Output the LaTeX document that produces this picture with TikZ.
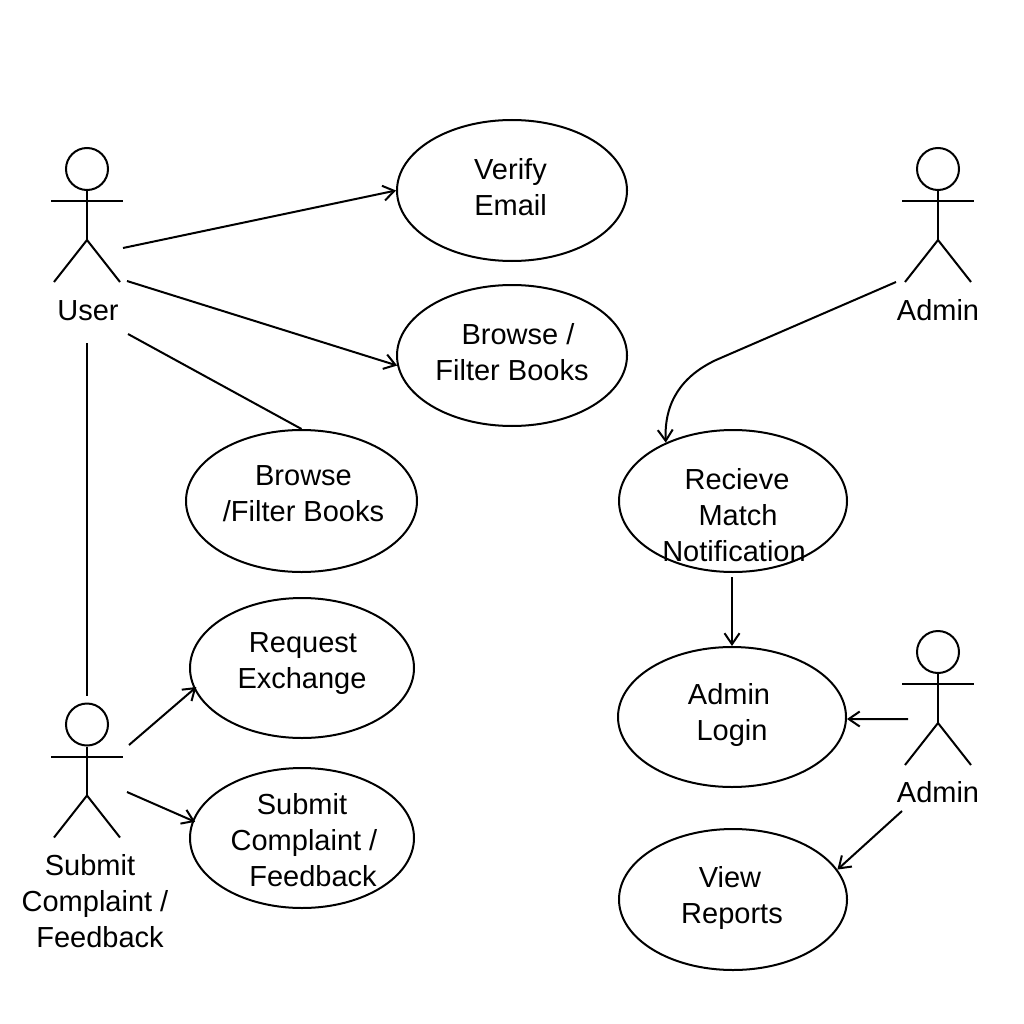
\documentclass[tikz,border=0pt]{standalone}
\usepackage{fontspec}
\setmainfont{Liberation Sans}
\usetikzlibrary{shapes.geometric,arrows.meta,calc}
\tikzset{
 usecase/.style={draw=black,line width=2pt,ellipse,inner sep=0pt,align=center,text=black,font=\fontsize{29}{36}\selectfont},
 conn/.style={draw=black,line width=2pt},
 arr/.style={conn,-{Straight Barb[length=11pt,width=15pt,line width=2pt]}},
 lbl/.style={inner sep=0pt,align=center,text=black,font=\fontsize{29}{36}\selectfont},
 head/.style={draw=black,line width=2pt,circle,minimum size=42pt,inner sep=0pt},
}
% #1 upward shift of the text, #2 the lines
\newcommand{\uctext}[2]{\makebox[0pt]{\raisebox{\dimexpr#1pt-7pt\relax}[0pt][0pt]{\begin{tabular}[c]{@{}c@{}}#2\end{tabular}}}}
% #1 name, #2 x, #3 y of head centre
\newcommand{\stickman}[3]{%
 \node[head] (#1) at (#2,#3) {};
 \coordinate (#1hip) at ($(#1)+(0,71)$);
 \draw[conn] (#1.south) -- (#1hip);
 \draw[conn] ($(#1)+(-36,32)$) -- ($(#1)+(36,32)$);
 \draw[conn] ($(#1hip)+(-33,42)$) -- (#1hip) -- ($(#1hip)+(33,42)$);
}
\begin{document}
\begin{tikzpicture}[x=1pt,y=-1pt]
\useasboundingbox (0,0) rectangle (1024,1024);
\fill[white] (0,0) rectangle (1024,1024);
% use cases
\node[usecase,minimum width=230pt,minimum height=141pt] (verify) at (512,190.5) {\uctext{0.5}{\hspace*{-3pt}Verify\\\hspace*{-3pt}Email}};
\node[usecase,minimum width=230pt,minimum height=141pt] (browseA) at (512,355.5) {\uctext{0.5}{\hspace*{12pt}Browse /\\Filter Books}};
\node[usecase,minimum width=231pt,minimum height=142pt] (browseB) at (301.5,501) {\uctext{5.5}{\hspace*{4pt}Browse\\\hspace*{4pt}/Filter Books}};
\node[usecase,minimum width=224pt,minimum height=140pt] (request) at (302,668) {\uctext{5}{\hspace*{2pt}Request\\Exchange}};
\node[usecase,minimum width=224pt,minimum height=140pt] (submit) at (302,838) {\uctext{-5}{Submit\\\hspace*{4pt}Complaint /\\\hspace*{22pt}Feedback}};
\node[usecase,minimum width=228pt,minimum height=142pt] (recieve) at (733,501) {\uctext{-17}{\hspace*{8pt}Recieve\\\hspace*{10pt}Match\\\hspace*{2pt}Notification}};
\node[usecase,minimum width=228pt,minimum height=140pt] (login) at (732,717) {\uctext{2}{\hspace*{-6pt}Admin\\Login}};
\node[usecase,minimum width=228pt,minimum height=141pt] (reports) at (733,899.5) {\uctext{2}{\hspace*{-6pt}View\\\hspace*{-2pt}Reports}};
% actors
\stickman{user}{87}{169}
\stickman{adminA}{938}{169}
\stickman{adminB}{938}{652}
\stickman{complainer}{87}{724.5}
\node[lbl] (userlabel) at (88,310.5) {User};
\node[lbl] (adminAlabel) at (938,310) {Admin};
\node[lbl] (adminBlabel) at (938,792) {Admin};
\node[lbl] (complainerlabel) at (95,901) {\hspace*{-10pt}Submit\\Complaint /\\\hspace*{10pt}Feedback};
% free ends
\coordinate (u1) at (123,248);
\coordinate (u2) at (127,281);
\coordinate (u3) at (128,334);
\coordinate (u4) at (87,343);
\coordinate (c0) at (87,696);
\coordinate (c1) at (129,745);
\coordinate (c2) at (127,792);
\coordinate (a1) at (896,282);
\coordinate (a1b) at (716,360);
\coordinate (a2) at (908,719);
\coordinate (a3) at (902,811);
\coordinate (rs) at (732,577);
% connectors
\draw[arr] (u1) -- (verify.180.8);
\draw[arr] (u2) -- (browseA.185.2);
\draw[conn] (u3) -- (browseB.north);
\draw[conn] (u4) -- (c0);
\draw[arr,shorten >=-3pt] (c1) -- (request.191.5);
\draw[arr,shorten >=-3pt] (c2) -- (submit.171);
\draw[arr] (a1) -- (a1b) .. controls (682,376) and (664,402) .. (recieve.139);
\draw[arr] (rs) -- (login.north);
\draw[arr] (a2) -- (login.-1);
\draw[arr] (a3) -- (reports.16.6);
\end{tikzpicture}
\end{document}
